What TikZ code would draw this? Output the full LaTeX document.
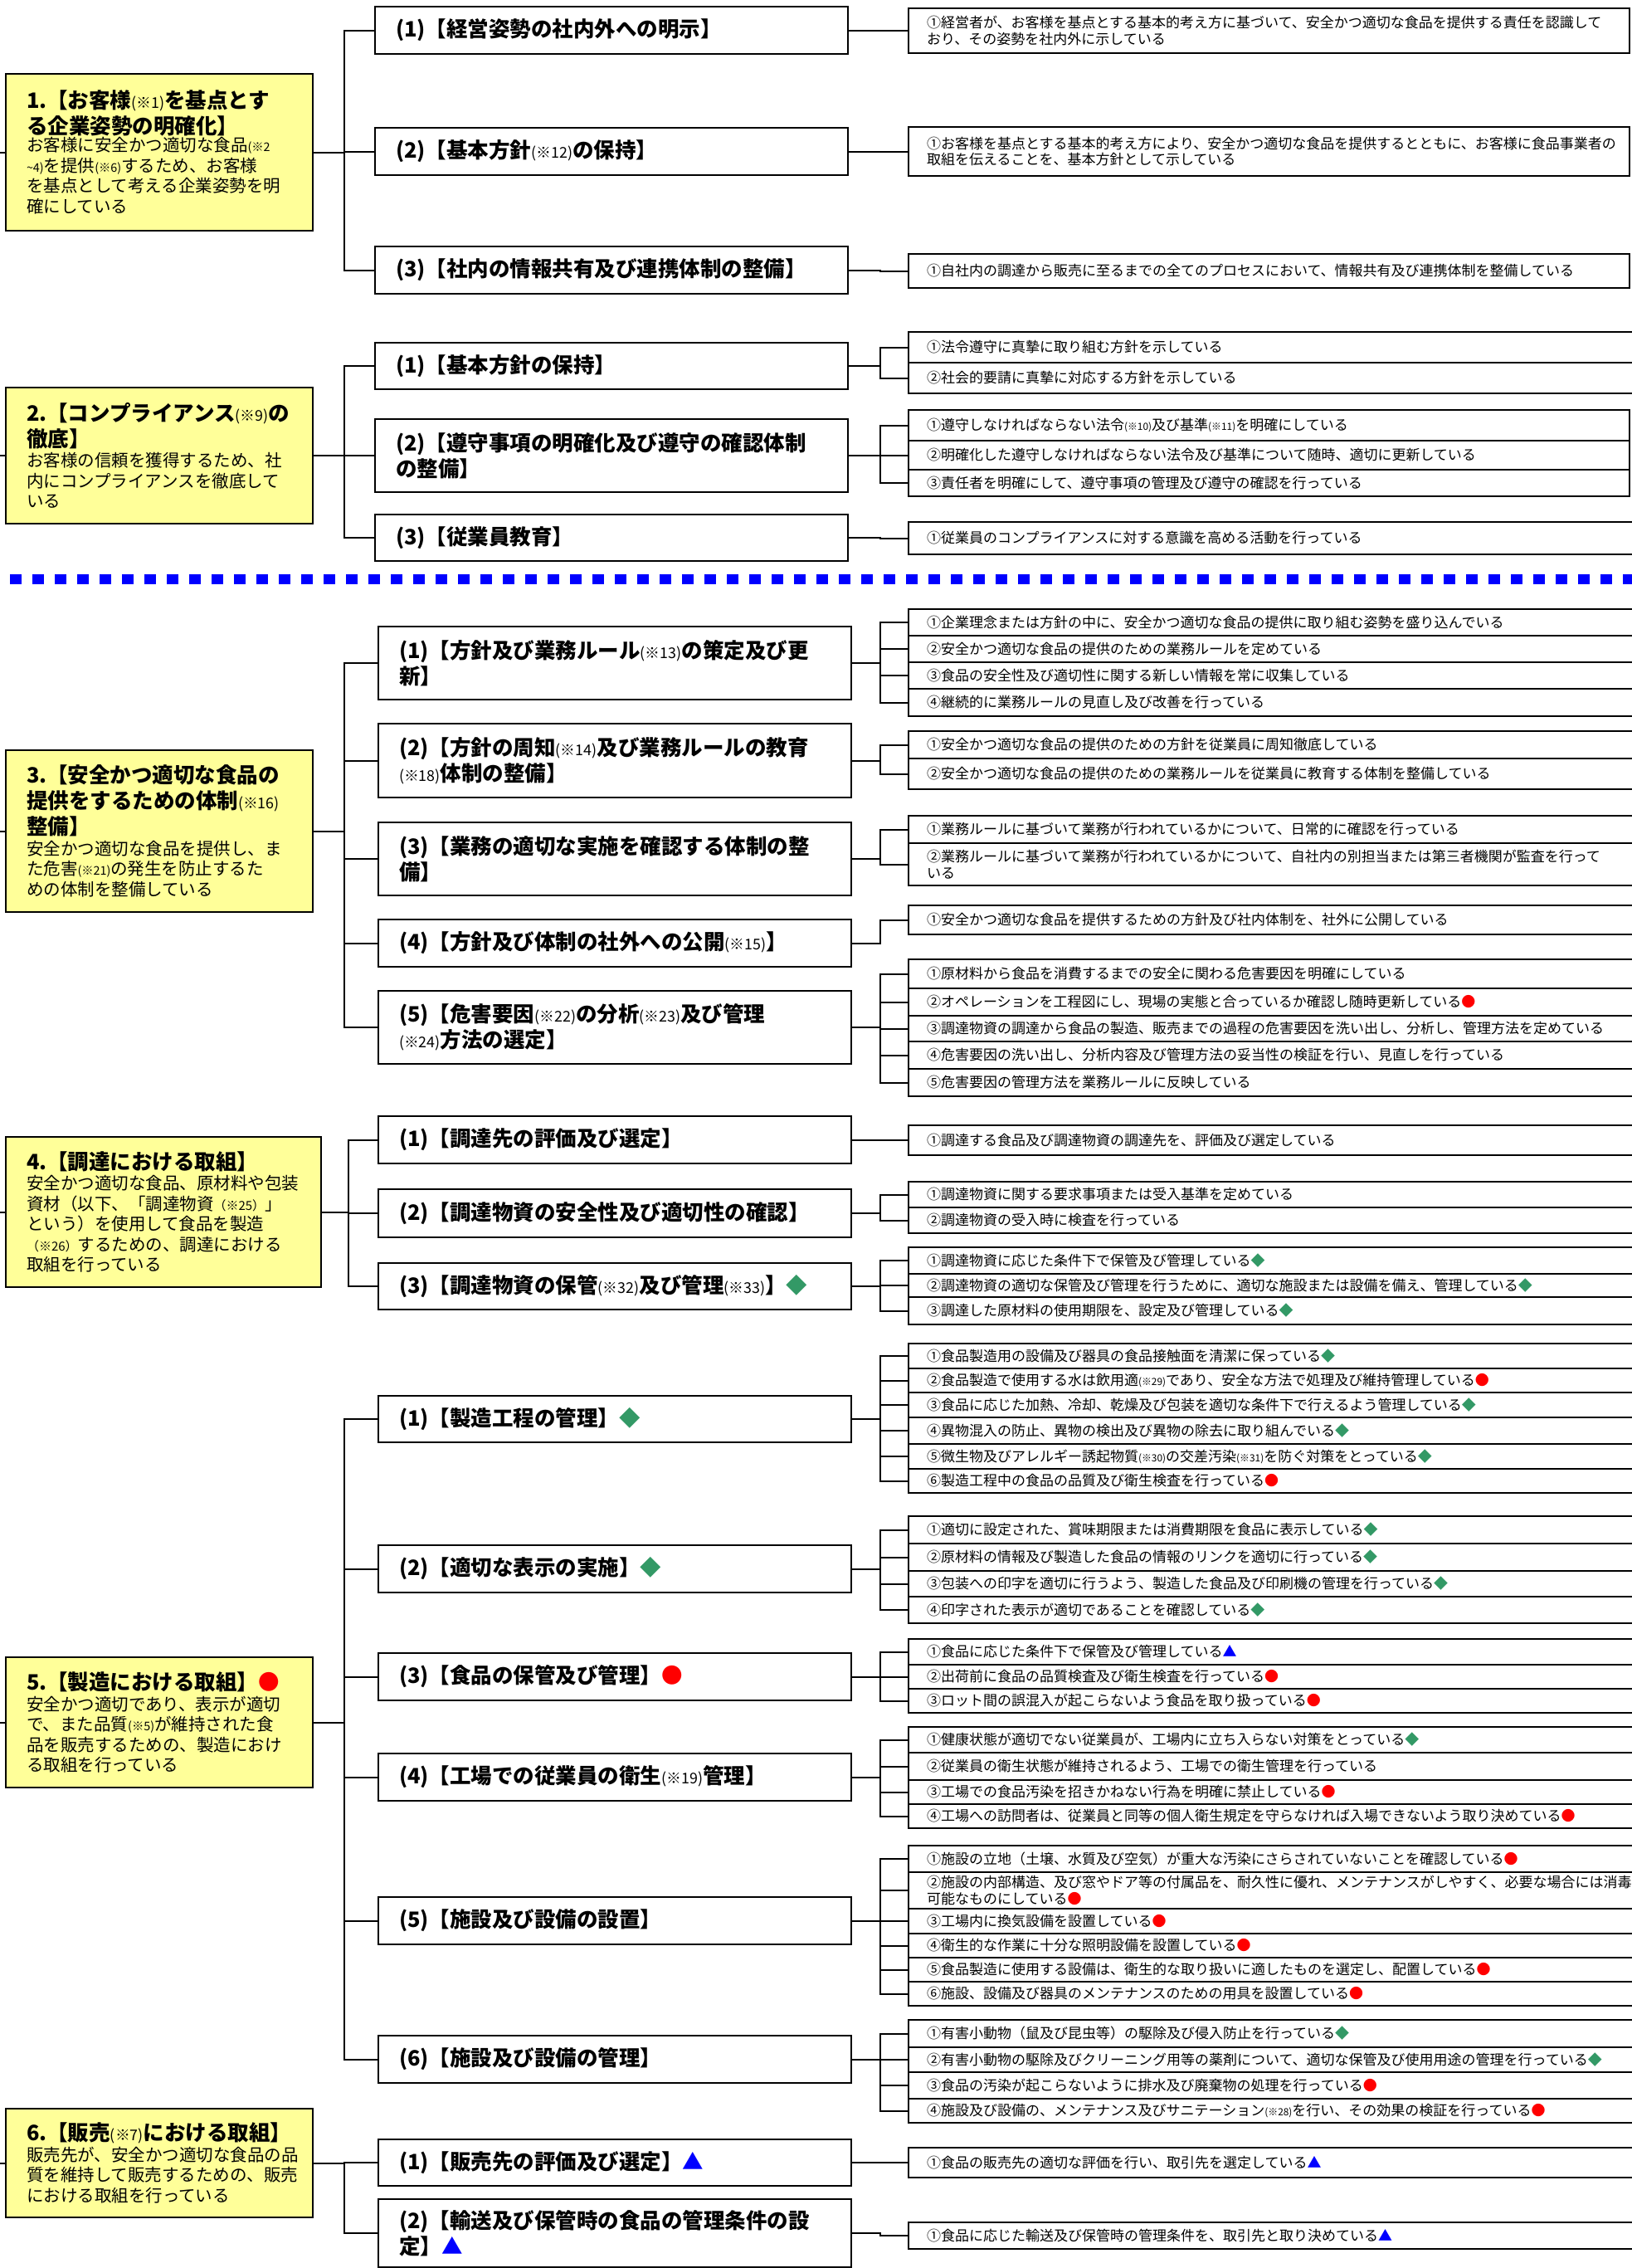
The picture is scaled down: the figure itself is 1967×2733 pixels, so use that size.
\documentclass[tikz,border=0pt]{standalone}
\usepackage{fontspec}
\setmainfont{Noto Sans CJK JP}
\definecolor{lyellow}{HTML}{FFFF99}
\definecolor{dgreen}{HTML}{339966}
\definecolor{dblue}{HTML}{0000FF}
\definecolor{dred}{HTML}{FF0000}
\makeatletter
\newcommand\fn[1]{{\mdseries\fontsize{\the\dimexpr\f@size pt*7/10\relax}{0pt}\selectfont(#1)}}
\makeatother
\newcommand\symG{\textcolor{dgreen}{◆}}
\newcommand\symR{\textcolor{dred}{●}}
\newcommand\symB{\textcolor{dblue}{▲}}
\newcommand\ttlfont{\bfseries\fontsize{25.5}{31}\selectfont}
\newcommand\bdyfont{\mdseries\fontsize{20.5}{24.5}\selectfont}
\tikzset{
  lbox/.style={draw, line width=2.2pt, fill=lyellow, anchor=north west, outer sep=0pt, inner xsep=25pt, inner ysep=0pt, align=left},
  mbox/.style={draw, line width=2.2pt, anchor=north west, outer sep=0pt, inner xsep=25pt, inner ysep=0pt, align=left, text width=520pt, minimum width=570pt, font=\ttlfont},
  ritem/.style={draw, line width=2pt, anchor=north west, outer sep=0pt, inner xsep=22pt, inner ysep=0pt, align=left, text width=831pt, minimum width=875pt, font=\fontsize{17}{19.5}\selectfont},
  ritems/.style={ritem, text width=825pt, minimum width=869pt},
  conn/.style={line width=2pt},
}
\newcommand\RI[5][ritem]{\node[#1, minimum height={#4-#3}] (#2) at (1095,#3) {#5};}
\newcommand\rc[2]{\draw[conn] (#1.east) -- (#1.east -| RX) |- (#2.west);}
\newcommand\lc[3]{\draw[conn] (#1.east) -- (#1.east -| #3) |- (#2.west);}
\newcommand\stub[1]{\draw[conn] (E0 |- #1.west) -- (#1.west);}
\begin{document}
\begin{tikzpicture}[x=1pt,y=-1pt]
\useasboundingbox (0,0) rectangle (1967,2733);
\fill[white] (0,0) rectangle (1967,2733);
\coordinate (E0) at (0,0);
\coordinate (LX) at (415,0);
\coordinate (LX4) at (420,0);
\coordinate (RX) at (1061,0);

% ---------- left boxes ----------
\node[lbox, minimum width=370pt, text width=320pt, minimum height=189pt] (L1) at (7,89)
 {{\ttlfont 1.【お客様\fn{※1}を基点とす\\る企業姿勢の明確化】\par}{\bdyfont お客様に安全かつ適切な食品\fn{※2\\\textasciitilde4}を提供\fn{※6}するため、お客様\\を基点として考える企業姿勢を明\\確にしている\par}};
\node[lbox, minimum width=370pt, text width=320pt, minimum height=164pt] (L2) at (7,467)
 {{\ttlfont 2.【コンプライアンス\fn{※9}の\\徹底】\par}{\bdyfont お客様の信頼を獲得するため、社\\内にコンプライアンスを徹底して\\いる\par}};
\node[lbox, minimum width=370pt, text width=320pt, minimum height=195pt] (L3) at (7,904)
 {{\ttlfont 3.【安全かつ適切な食品の\\提供をするための体制\fn{※16}\\整備】\par}{\bdyfont 安全かつ適切な食品を提供し、ま\\た危害\fn{※21}の発生を防止するた\\めの体制を整備している\par}};
\node[lbox, minimum width=380pt, text width=330pt, minimum height=181pt] (L4) at (7,1370)
 {{\ttlfont 4.【調達における取組】\par}{\bdyfont 安全かつ適切な食品、原材料や包装\\資材（以下、「調達物資{\fontsize{15}{0}\selectfont（※25）}」\\という）を使用して食品を製造\\{\fontsize{15}{0}\selectfont（※26）}するための、調達における\\取組を行っている\par}};
\node[lbox, minimum width=370pt, text width=320pt, minimum height=157pt] (L5) at (7,1997)
 {{\ttlfont 5.【製造における取組】\symR\par}{\bdyfont 安全かつ適切であり、表示が適切\\で、また品質\fn{※5}が維持された食\\品を販売するための、製造におけ\\る取組を行っている\par}};
\node[lbox, minimum width=370pt, text width=320pt, minimum height=131pt] (L6) at (7,2541)
 {{\ttlfont 6.【販売\fn{※7}における取組】\par}{\bdyfont 販売先が、安全かつ適切な食品の品\\質を維持して販売するための、販売\\における取組を行っている\par}};

\foreach \n in {L1,L2,L3,L4,L5,L6} {\stub{\n}}

% ---------- blue dashed separator ----------
\draw[dblue, line width=12pt, dash pattern=on 14pt off 13pt] (12,698) -- (1975,698);

% ---------- middle boxes ----------
\node[mbox, minimum height=57pt] (M11) at (452,8) {(1)【経営姿勢の社内外への明示】};
\node[mbox, minimum height=57pt] (M12) at (452,154) {(2)【基本方針\fn{※12}の保持】};
\node[mbox, minimum height=57pt] (M13) at (452,297) {(3)【社内の情報共有及び連携体制の整備】};
\node[mbox, minimum height=56pt] (M21) at (452,413) {(1)【基本方針の保持】};
\node[mbox, minimum height=88pt] (M22) at (452,505) {(2)【遵守事項の明確化及び遵守の確認体制\\の整備】};
\node[mbox, minimum height=56pt] (M23) at (452,620) {(3)【従業員教育】};

\node[mbox, minimum height=88pt] (M31) at (456,755) {(1)【方針及び業務ルール\fn{※13}の策定及び更\\新】};
\node[mbox, minimum height=89pt] (M32) at (456,872) {(2)【方針の周知\fn{※14}及び業務ルールの教育\\\fn{※18}体制の整備】};
\node[mbox, minimum height=88pt] (M33) at (456,991) {(3)【業務の適切な実施を確認する体制の整\\備】};
\node[mbox, minimum height=57pt] (M34) at (456,1108) {(4)【方針及び体制の社外への公開\fn{※15}】};
\node[mbox, minimum height=88pt] (M35) at (456,1194) {(5)【危害要因\fn{※22}の分析\fn{※23}及び管理\\\fn{※24}方法の選定】};

\node[mbox, minimum height=57pt] (M41) at (456,1345) {(1)【調達先の評価及び選定】};
\node[mbox, minimum height=58pt] (M42) at (456,1433) {(2)【調達物資の安全性及び適切性の確認】};
\node[mbox, minimum height=56pt] (M43) at (456,1522) {(3)【調達物資の保管\fn{※32}及び管理\fn{※33}】\symG};

\node[mbox, minimum height=56pt] (M51) at (456,1682) {(1)【製造工程の管理】\symG};
\node[mbox, minimum height=57pt] (M52) at (456,1862) {(2)【適切な表示の実施】\symG};
\node[mbox, minimum height=57pt] (M53) at (456,1992) {(3)【食品の保管及び管理】\symR};
\node[mbox, minimum height=57pt] (M54) at (456,2113) {(4)【工場での従業員の衛生\fn{※19}管理】};
\node[mbox, minimum height=57pt] (M55) at (456,2286) {(5)【施設及び設備の設置】};
\node[mbox, minimum height=57pt] (M56) at (456,2453) {(6)【施設及び設備の管理】};

\node[mbox, minimum height=56pt] (M61) at (456,2578) {(1)【販売先の評価及び選定】\symB};
\node[mbox, minimum height=82pt] (M62) at (456,2650) {(2)【輸送及び保管時の食品の管理条件の設\\定】\symB};

% ---------- left connectors ----------
\foreach \m in {M11,M12,M13} {\lc{L1}{\m}{LX}}
\foreach \m in {M21,M22,M23} {\lc{L2}{\m}{LX}}
\foreach \m in {M31,M32,M33,M34,M35} {\lc{L3}{\m}{LX}}
\foreach \m in {M41,M42,M43} {\lc{L4}{\m}{LX4}}
\foreach \m in {M51,M52,M53,M54,M55,M56} {\lc{L5}{\m}{LX}}
\foreach \m in {M61,M62} {\lc{L6}{\m}{LX}}

% ---------- right items ----------
\RI[ritems]{R11a}{10}{64}{①経営者が、お客様を基点とする基本的考え方に基づいて、安全かつ適切な食品を提供する責任を認識して\\おり、その姿勢を社内外に示している}
\RI[ritems]{R12a}{153}{212}{①お客様を基点とする基本的考え方により、安全かつ適切な食品を提供するとともに、お客様に食品事業者の\\取組を伝えることを、基本方針として示している}
\RI[ritems]{R13a}{306}{347}{①自社内の調達から販売に至るまでの全てのプロセスにおいて、情報共有及び連携体制を整備している}

\RI{R21a}{400}{437}{①法令遵守に真摯に取り組む方針を示している}
\RI{R21b}{437}{474}{②社会的要請に真摯に対応する方針を示している}
\RI[ritems]{R22a}{494}{531}{①遵守しなければならない法令\fn{※10}及び基準\fn{※11}を明確にしている}
\RI[ritems]{R22b}{531}{566}{②明確化した遵守しなければならない法令及び基準について随時、適切に更新している}
\RI[ritems]{R22c}{566}{598}{③責任者を明確にして、遵守事項の管理及び遵守の確認を行っている}
\RI{R23a}{629}{668}{①従業員のコンプライアンスに対する意識を高める活動を行っている}

\RI{R31a}{734}{766}{①企業理念または方針の中に、安全かつ適切な食品の提供に取り組む姿勢を盛り込んでいる}
\RI{R31b}{766}{798}{②安全かつ適切な食品の提供のための業務ルールを定めている}
\RI{R31c}{798}{830}{③食品の安全性及び適切性に関する新しい情報を常に収集している}
\RI{R31d}{830}{863}{④継続的に業務ルールの見直し及び改善を行っている}
\RI{R32a}{881}{914}{①安全かつ適切な食品の提供のための方針を従業員に周知徹底している}
\RI{R32b}{914}{951}{②安全かつ適切な食品の提供のための業務ルールを従業員に教育する体制を整備している}
\RI{R33a}{983}{1016}{①業務ルールに基づいて業務が行われているかについて、日常的に確認を行っている}
\RI{R33b}{1016}{1067}{②業務ルールに基づいて業務が行われているかについて、自社内の別担当または第三者機関が監査を行って\\いる}
\RI{R34a}{1091}{1126}{①安全かつ適切な食品を提供するための方針及び社内体制を、社外に公開している}
\RI{R35a}{1156}{1191}{①原材料から食品を消費するまでの安全に関わる危害要因を明確にしている}
\RI{R35b}{1191}{1224}{②オペレーションを工程図にし、現場の実態と合っているか確認し随時更新している\symR}
\RI{R35c}{1224}{1255}{③調達物資の調達から食品の製造、販売までの過程の危害要因を洗い出し、分析し、管理方法を定めている}
\RI{R35d}{1255}{1288}{④危害要因の洗い出し、分析内容及び管理方法の妥当性の検証を行い、見直しを行っている}
\RI{R35e}{1288}{1321}{⑤危害要因の管理方法を業務ルールに反映している}

\RI{R41a}{1356}{1392}{①調達する食品及び調達物資の調達先を、評価及び選定している}
\RI{R42a}{1424}{1455}{①調達物資に関する要求事項または受入基準を定めている}
\RI{R42b}{1455}{1486}{②調達物資の受入時に検査を行っている}
\RI{R43a}{1503}{1535}{①調達物資に応じた条件下で保管及び管理している\symG}
\RI{R43b}{1535}{1563}{②調達物資の適切な保管及び管理を行うために、適切な施設または設備を備え、管理している\symG}
\RI{R43c}{1563}{1596}{③調達した原材料の使用期限を、設定及び管理している\symG}

\RI{R51a}{1619}{1649}{①食品製造用の設備及び器具の食品接触面を清潔に保っている\symG}
\RI{R51b}{1649}{1678}{②食品製造で使用する水は飲用適\fn{※29}であり、安全な方法で処理及び維持管理している\symR}
\RI{R51c}{1678}{1708}{③食品に応じた加熱、冷却、乾燥及び包装を適切な条件下で行えるよう管理している\symG}
\RI{R51d}{1708}{1740}{④異物混入の防止、異物の検出及び異物の除去に取り組んでいる\symG}
\RI{R51e}{1740}{1770}{⑤微生物及びアレルギー誘起物質\fn{※30}の交差汚染\fn{※31}を防ぐ対策をとっている\symG}
\RI{R51f}{1770}{1799}{⑥製造工程中の食品の品質及び衛生検査を行っている\symR}
\RI{R52a}{1827}{1860}{①適切に設定された、賞味期限または消費期限を食品に表示している\symG}
\RI{R52b}{1860}{1893}{②原材料の情報及び製造した食品の情報のリンクを適切に行っている\symG}
\RI{R52c}{1893}{1924}{③包装への印字を適切に行うよう、製造した食品及び印刷機の管理を行っている\symG}
\RI{R52d}{1924}{1956}{④印字された表示が適切であることを確認している\symG}
\RI{R53a}{1975}{2006}{①食品に応じた条件下で保管及び管理している\symB}
\RI{R53b}{2006}{2035}{②出荷前に食品の品質検査及び衛生検査を行っている\symR}
\RI{R53c}{2035}{2064}{③ロット間の誤混入が起こらないよう食品を取り扱っている\symR}
\RI{R54a}{2081}{2112}{①健康状態が適切でない従業員が、工場内に立ち入らない対策をとっている\symG}
\RI{R54b}{2112}{2145}{②従業員の衛生状態が維持されるよう、工場での衛生管理を行っている}
\RI{R54c}{2145}{2174}{③工場での食品汚染を招きかねない行為を明確に禁止している\symR}
\RI{R54d}{2174}{2203}{④工場への訪問者は、従業員と同等の個人衛生規定を守らなければ入場できないよう取り決めている\symR}
\RI{R55a}{2224}{2256}{①施設の立地（土壌、水質及び空気）が重大な汚染にさらされていないことを確認している\symR}
\RI{R55b}{2256}{2300}{②施設の内部構造、及び窓やドア等の付属品を、耐久性に優れ、メンテナンスがしやすく、必要な場合には消毒\\可能なものにしている\symR}
\RI{R55c}{2300}{2330}{③工場内に換気設備を設置している\symR}
\RI{R55d}{2330}{2359}{④衛生的な作業に十分な照明設備を設置している\symR}
\RI{R55e}{2359}{2388}{⑤食品製造に使用する設備は、衛生的な取り扱いに適したものを選定し、配置している\symR}
\RI{R55f}{2388}{2417}{⑥施設、設備及び器具のメンテナンスのための用具を設置している\symR}
\RI{R56a}{2434}{2467}{①有害小動物（鼠及び昆虫等）の駆除及び侵入防止を行っている\symG}
\RI{R56b}{2467}{2497}{②有害小動物の駆除及びクリーニング用等の薬剤について、適切な保管及び使用用途の管理を行っている\symG}
\RI{R56c}{2497}{2529}{③食品の汚染が起こらないように排水及び廃棄物の処理を行っている\symR}
\RI{R56d}{2529}{2558}{④施設及び設備の、メンテナンス及びサニテーション\fn{※28}を行い、その効果の検証を行っている\symR}

\RI{R61a}{2588}{2624}{①食品の販売先の適切な評価を行い、取引先を選定している\symB}
\RI{R62a}{2678}{2710}{①食品に応じた輸送及び保管時の管理条件を、取引先と取り決めている\symB}

% ---------- right connectors ----------
\rc{M11}{R11a}
\rc{M12}{R12a}
\rc{M13}{R13a}
\foreach \r in {R21a,R21b} {\rc{M21}{\r}}
\foreach \r in {R22a,R22b,R22c} {\rc{M22}{\r}}
\rc{M23}{R23a}
\foreach \r in {R31a,R31b,R31c,R31d} {\rc{M31}{\r}}
\foreach \r in {R32a,R32b} {\rc{M32}{\r}}
\foreach \r in {R33a,R33b} {\rc{M33}{\r}}
\rc{M34}{R34a}
\foreach \r in {R35a,R35b,R35c,R35d,R35e} {\rc{M35}{\r}}
\rc{M41}{R41a}
\foreach \r in {R42a,R42b} {\rc{M42}{\r}}
\foreach \r in {R43a,R43b,R43c} {\rc{M43}{\r}}
\foreach \r in {R51a,R51b,R51c,R51d,R51e,R51f} {\rc{M51}{\r}}
\foreach \r in {R52a,R52b,R52c,R52d} {\rc{M52}{\r}}
\foreach \r in {R53a,R53b,R53c} {\rc{M53}{\r}}
\foreach \r in {R54a,R54b,R54c,R54d} {\rc{M54}{\r}}
\foreach \r in {R55a,R55b,R55c,R55d,R55e,R55f} {\rc{M55}{\r}}
\foreach \r in {R56a,R56b,R56c,R56d} {\rc{M56}{\r}}
\rc{M61}{R61a}
\rc{M62}{R62a}
\end{tikzpicture}
\end{document}
